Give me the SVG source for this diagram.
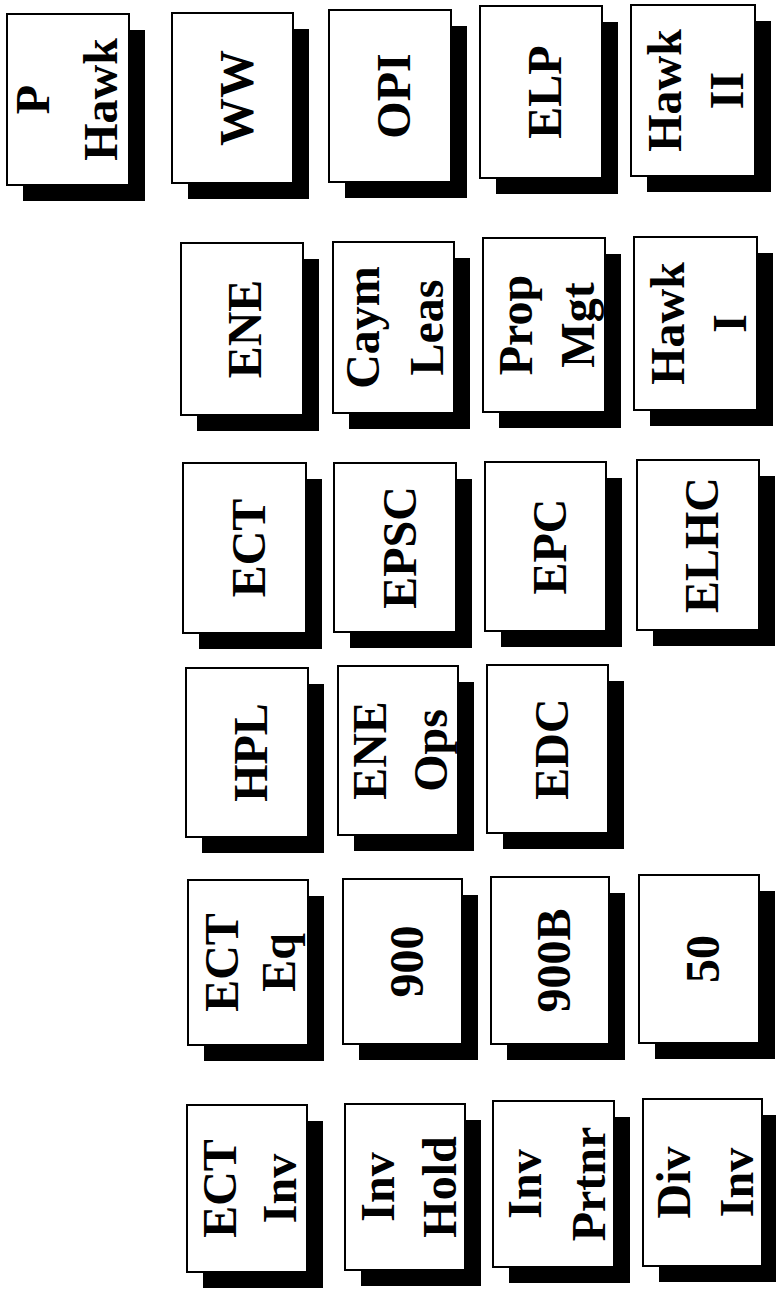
<svg xmlns="http://www.w3.org/2000/svg" width="776" height="1289" viewBox="0 0 776 1289">
<style>
.sh{fill:#000}
.bx{fill:#fff;stroke:#000;stroke-width:2}
.t{font-family:"Liberation Serif","Times New Roman",serif;font-weight:bold;font-size:48px;fill:#000;text-anchor:middle}
</style>
<rect width="776" height="1289" fill="#fff"/>
<g id="connectors"></g>

<g id="n-phawk"><rect class="sh" x="23" y="30" width="122" height="171"/><rect class="bx" x="7" y="14" width="122" height="171"/><text class="t" transform="translate(49,99.5) rotate(-90)"><tspan x="0" y="0">P</tspan><tspan x="0" dy="68">Hawk</tspan></text></g>
<g id="n-ww"><rect class="sh" x="188" y="29" width="121" height="170"/><rect class="bx" x="172" y="13" width="121" height="170"/><text class="t" transform="translate(252.5,98) rotate(-90)">WW</text></g>
<g id="n-opi"><rect class="sh" x="345" y="26" width="122" height="172"/><rect class="bx" x="329" y="10" width="122" height="172"/><text class="t" transform="translate(410,96) rotate(-90)">OPI</text></g>
<g id="n-elp"><rect class="sh" x="496" y="22" width="122" height="172"/><rect class="bx" x="480" y="6" width="122" height="172"/><text class="t" transform="translate(561,92) rotate(-90)">ELP</text></g>
<g id="n-hawk2"><rect class="sh" x="647" y="21" width="124" height="171"/><rect class="bx" x="631" y="5" width="124" height="171"/><text class="t" transform="translate(681,90.5) rotate(-90)"><tspan x="0" y="0">Hawk</tspan><tspan x="0" dy="62">II</tspan></text></g>

<g id="n-ene"><rect class="sh" x="197" y="259" width="122" height="172"/><rect class="bx" x="181" y="243" width="122" height="172"/><text class="t" transform="translate(261,329) rotate(-90)">ENE</text></g>
<g id="n-caym"><rect class="sh" x="349" y="258" width="121" height="171"/><rect class="bx" x="333" y="242" width="121" height="171"/><text class="t" transform="translate(379,327.5) rotate(-90)"><tspan x="0" y="0">Caym</tspan><tspan x="0" dy="64">Leas</tspan></text></g>
<g id="n-prop"><rect class="sh" x="499" y="254" width="122" height="174"/><rect class="bx" x="483" y="238" width="122" height="174"/><text class="t" transform="translate(532,325) rotate(-90)"><tspan x="0" y="0">Prop</tspan><tspan x="0" dy="62">Mgt</tspan></text></g>
<g id="n-hawk1"><rect class="sh" x="650" y="253" width="123" height="173"/><rect class="bx" x="634" y="237" width="123" height="173"/><text class="t" transform="translate(683.5,323.5) rotate(-90)"><tspan x="0" y="0">Hawk</tspan><tspan x="0" dy="62">I</tspan></text></g>

<g id="n-ect"><rect class="sh" x="199" y="479" width="123" height="170"/><rect class="bx" x="183" y="463" width="123" height="170"/><text class="t" transform="translate(265,548) rotate(-90)">ECT</text></g>
<g id="n-epsc"><rect class="sh" x="350" y="479" width="122" height="169"/><rect class="bx" x="334" y="463" width="122" height="169"/><text class="t" transform="translate(416,547.5) rotate(-90)">EPSC</text></g>
<g id="n-epc"><rect class="sh" x="501" y="478" width="121" height="169"/><rect class="bx" x="485" y="462" width="121" height="169"/><text class="t" transform="translate(566,546.5) rotate(-90)">EPC</text></g>
<g id="n-elhc"><rect class="sh" x="653" y="476" width="122" height="170"/><rect class="bx" x="637" y="460" width="122" height="170"/><text class="t" transform="translate(718,545) rotate(-90)">ELHC</text></g>

<g id="n-hpl"><rect class="sh" x="202" y="684" width="122" height="169"/><rect class="bx" x="186" y="668" width="122" height="169"/><text class="t" transform="translate(267,752.5) rotate(-90)">HPL</text></g>
<g id="n-eneops"><rect class="sh" x="354" y="682" width="120" height="169"/><rect class="bx" x="338" y="666" width="120" height="169"/><text class="t" transform="translate(386,750.5) rotate(-90)"><tspan x="0" y="0">ENE</tspan><tspan x="0" dy="61">Ops</tspan></text></g>
<g id="n-edc"><rect class="sh" x="503" y="681" width="121" height="168"/><rect class="bx" x="487" y="665" width="121" height="168"/><text class="t" transform="translate(567.5,749) rotate(-90)">EDC</text></g>

<g id="n-ecteq"><rect class="sh" x="204" y="896" width="120" height="165"/><rect class="bx" x="188" y="880" width="120" height="165"/><text class="t" transform="translate(238,962.5) rotate(-90)"><tspan x="0" y="0">ECT</tspan><tspan x="0" dy="57">Eq</tspan></text></g>
<g id="n-900"><rect class="sh" x="359" y="895" width="119" height="165"/><rect class="bx" x="343" y="879" width="119" height="165"/><text class="t" transform="translate(422.5,961.5) rotate(-90)">900</text></g>
<g id="n-900b"><rect class="sh" x="507" y="893" width="118" height="167"/><rect class="bx" x="491" y="877" width="118" height="167"/><text class="t" transform="translate(570,960.5) rotate(-90)">900B</text></g>
<g id="n-50"><rect class="sh" x="655" y="891" width="120" height="168"/><rect class="bx" x="639" y="875" width="120" height="168"/><text class="t" transform="translate(719,959) rotate(-90)">50</text></g>

<g id="n-ectinv"><rect class="sh" x="203" y="1121" width="120" height="167"/><rect class="bx" x="187" y="1105" width="120" height="167"/><text class="t" transform="translate(236,1188.5) rotate(-90)"><tspan x="0" y="0">ECT</tspan><tspan x="0" dy="60">Inv</tspan></text></g>
<g id="n-invhold"><rect class="sh" x="361" y="1120" width="120" height="166"/><rect class="bx" x="345" y="1104" width="120" height="166"/><text class="t" transform="translate(394,1187) rotate(-90)"><tspan x="0" y="0">Inv</tspan><tspan x="0" dy="62">Hold</tspan></text></g>
<g id="n-invprtnr"><rect class="sh" x="509" y="1117" width="121" height="166"/><rect class="bx" x="493" y="1101" width="121" height="166"/><text class="t" transform="translate(541,1184) rotate(-90)"><tspan x="0" y="0">Inv</tspan><tspan x="0" dy="64">Prtnr</tspan></text></g>
<g id="n-divinv"><rect class="sh" x="659" y="1115" width="119" height="167"/><rect class="bx" x="643" y="1099" width="119" height="167"/><text class="t" transform="translate(690,1182.5) rotate(-90)"><tspan x="0" y="0">Div</tspan><tspan x="0" dy="63">Inv</tspan></text></g>
</svg>
